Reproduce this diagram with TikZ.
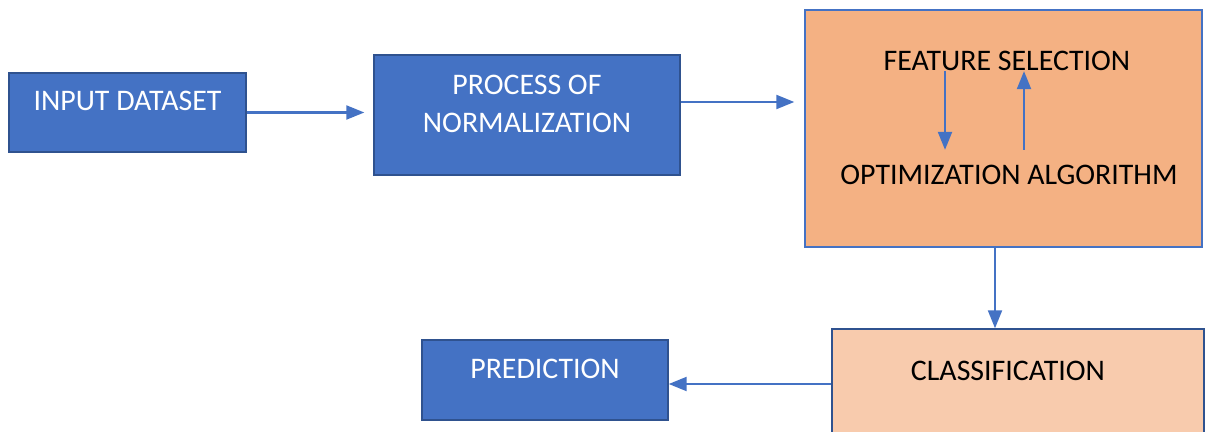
\documentclass[tikz,border=0pt]{standalone}
\usepackage{fontspec}
\setmainfont{Carlito}
\usetikzlibrary{arrows.meta}

\definecolor{boxblue}{HTML}{4472C4}
\definecolor{edgeblue}{HTML}{2F528F}
\definecolor{featorange}{HTML}{F4B183}
\definecolor{classpeach}{HTML}{F8CBAD}

\begin{document}
\begin{tikzpicture}[
    font=\fontsize{17}{21.5}\selectfont,
    bluebox/.style={rectangle, draw=edgeblue, line width=0.8pt, fill=boxblue, text=white, align=center, text depth=0.45cm},
    flow/.style={draw=boxblue, line width=1.2pt, -{Triangle[length=0.36cm, width=0.28cm]}}
  ]
  \useasboundingbox (0,0) rectangle (24.14,-8.64);

  % Nodes
  \node (input) at (2.55,-2.25) [bluebox, minimum width=4.74cm, minimum height=1.58cm] {INPUT DATASET};
  \node (norm) at (10.54,-2.30) [bluebox, minimum width=6.12cm, minimum height=2.40cm] {PROCESS OF\\NORMALIZATION};

  \node (featbox) at (20.07,-2.57) [rectangle, draw=boxblue, line width=0.8pt, fill=featorange, minimum width=7.94cm, minimum height=4.74cm] {};
  \node (featsel) at (20.14,-1.22) [inner sep=0pt] {FEATURE SELECTION};
  \node (optalg) at (20.18,-3.50) [inner sep=0pt] {OPTIMIZATION ALGORITHM};

  \node (classif) at (20.36,-7.64) [rectangle, draw=edgeblue, line width=0.8pt, fill=classpeach, minimum width=7.44cm, minimum height=2.12cm, text depth=0.45cm] {CLASSIFICATION\hspace*{0.4cm}};
  \node (pred) at (10.90,-7.60) [bluebox, minimum width=4.92cm, minimum height=1.60cm] {PREDICTION};

  % Edges
  \draw[flow, shorten >=0.18cm] (input.east) -- (input.east -| norm.west);
  \draw[flow, shorten >=0.2cm] ([yshift=0.26cm]norm.east) -- ([yshift=0.26cm]norm.east -| featbox.west);
  \draw[flow, shorten >=0.3cm] (featsel.south -| 18.90,0) -- (optalg.north -| 18.90,0);
  \draw[flow, shorten <=0.3cm] (optalg.north -| 20.48,0) -- (featsel.south -| 20.48,0);
  \draw[flow] (featbox.south -| 19.90,0) -- (classif.north -| 19.90,0);
  \draw[flow] ([yshift=-0.04cm]classif.west) -- ([yshift=-0.04cm]classif.west -| pred.east);
\end{tikzpicture}
\end{document}
